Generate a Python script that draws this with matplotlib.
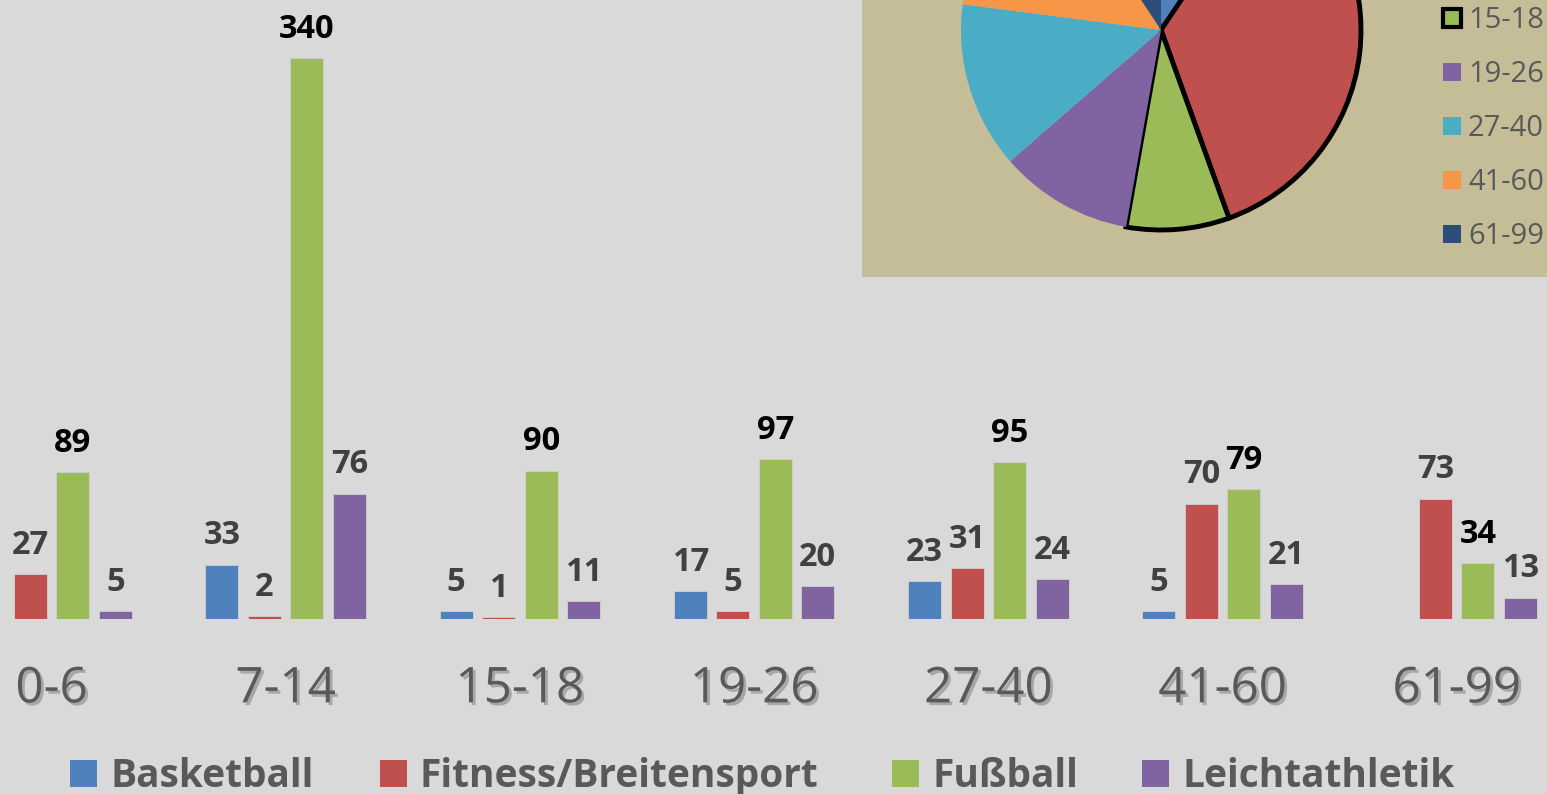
import matplotlib
matplotlib.use('Agg')
import matplotlib.pyplot as plt
import matplotlib.patheffects as pe
from matplotlib.patches import Rectangle
import numpy as np

# ---- data ----
age_groups = ['0-6', '7-14', '15-18', '19-26', '27-40', '41-60', '61-99']
sports = ['Basketball', 'Fitness/Breitensport', 'Fußball', 'Leichtathletik']
basketball = [0, 33, 5, 17, 23, 5, 0]
fitness = [27, 2, 1, 5, 31, 70, 73]
fussball = [89, 340, 90, 97, 95, 79, 34]
leichtathletik = [5, 76, 11, 20, 24, 21, 13]

bar_colors = ['#4F81BD', '#C0504D', '#9BBB59', '#8064A2']
pie_colors = ['#4F81BD', '#C0504D', '#9BBB59', '#8064A2', '#4BACC6', '#F79646', '#2C4D75']

series = [basketball, fitness, fussball, leichtathletik]
pie_totals = [sum(v) for v in zip(*series)]

W, H = 1547, 794
plt.rcParams['font.family'] = ['Open Sans', 'DejaVu Sans']
fig = plt.figure(figsize=(W / 100, H / 100), dpi=100, facecolor='#D9D9D9')


def fx(px):
    return px / W


def fy(py):
    return 1 - py / H


# ---- bar chart ----
base = 619
ax = fig.add_axes([0, fy(base), 1, base / H])
ax.set_facecolor('none')
scale = 561 / 340
ax.set_ylim(0, base / scale)
unit = 234.2
x0 = 51.5
ax.set_xlim(-x0 / unit, (W - x0) / unit)
x = np.arange(len(age_groups))
width = 33 / unit
pitch = 42.5 / unit
for i, (vals, c) in enumerate(zip(series, bar_colors)):
    off = (i - 1.5) * pitch
    ax.bar(x + off, vals, width, color=c, edgecolor='#d0d0d0', linewidth=0.6, label=sports[i])
    for xi, v in zip(x + off, vals):
        if v == 0:
            continue
        ax.annotate(str(v), (xi, v), xytext=(0, 14.5), textcoords='offset points',
                    ha='center', va='baseline', fontsize=23.5, fontweight='bold',
                    color='black' if i == 2 else '#404040', annotation_clip=False)

for s in ax.spines.values():
    s.set_visible(False)
ax.set_yticks([])
ax.set_xticks(x)
ax.set_xticklabels(age_groups, fontsize=35.5, color='#595959')
ax.tick_params(axis='x', length=0, pad=33)
for t in ax.get_xticklabels():
    t.set_path_effects([pe.SimplePatchShadow(offset=(2, -2), shadow_rgbFace='#777777', alpha=0.5),
                        pe.Normal()])

# bottom legend
leg_items = [(70, 110), (380, 420), (892, 933), (1142, 1183)]
for (sx, tx), lab, c in zip(leg_items, sports, bar_colors):
    fig.patches.append(Rectangle((fx(sx), fy(787)), fx(27), 27 / H, transform=fig.transFigure,
                                 facecolor=c, edgecolor='none'))
    fig.text(fx(tx), fy(787), lab, ha='left', va='baseline', fontsize=28,
             fontweight='bold', color='#595959')

# ---- pie inset ----
panel = fig.add_axes([fx(862), fy(277), fx(W - 862), 277 / H])
panel.set_facecolor('#C4BD97')
for s in panel.spines.values():
    s.set_visible(False)
panel.set_xticks([])
panel.set_yticks([])

pcx, pcy, pr = 1161, 30, 200
pax = fig.add_axes([fx(pcx - pr), fy(pcy + pr), fx(2 * pr), 2 * pr / H])
wedges, _ = pax.pie(pie_totals, colors=pie_colors, startangle=90, counterclock=False, radius=1)
for i, w in enumerate(wedges):
    if i in (1, 2):
        w.set_edgecolor('black')
        w.set_linewidth(3.5)
    else:
        w.set_edgecolor('none')
pax.set_xlim(-1, 1)
pax.set_ylim(-1, 1)
pax.axis('off')

for i, (lab, c) in enumerate(zip(age_groups, pie_colors)):
    cy = 18 + (i - 2) * 54
    if cy < 0:
        continue
    if i in (1, 2):
        fig.patches.append(Rectangle((fx(1443), fy(cy + 9)), fx(18), 18 / H, transform=fig.transFigure,
                                     facecolor=c, edgecolor='black', linewidth=3))
    else:
        fig.patches.append(Rectangle((fx(1443), fy(cy + 9)), fx(18), 18 / H, transform=fig.transFigure,
                                     facecolor=c, edgecolor='none'))
    fig.text(fx(1468), fy(cy + 10), lab, ha='left', va='baseline', fontsize=21, color='#595959')

fig.savefig('out.png', dpi=100, facecolor=fig.get_facecolor())
